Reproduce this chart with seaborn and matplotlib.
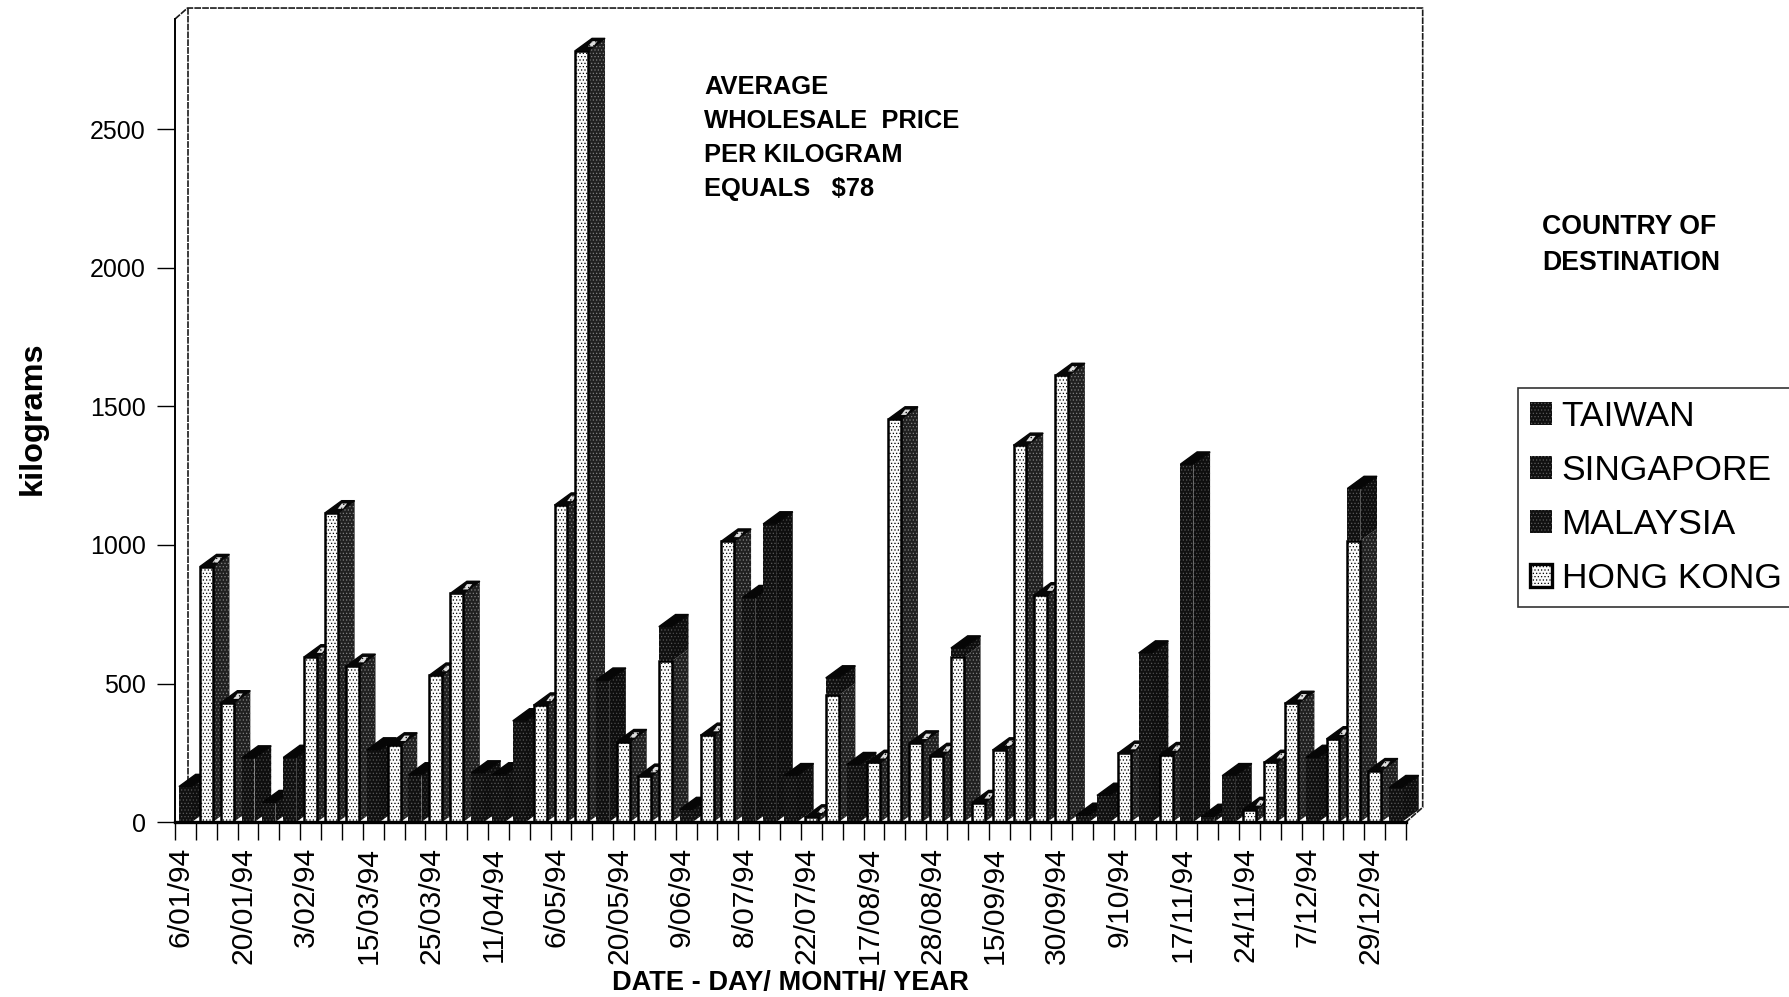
import numpy as np
import matplotlib
matplotlib.use("Agg")
import matplotlib.pyplot as plt
from matplotlib.patches import Patch
from matplotlib.transforms import ScaledTranslation
import seaborn as sns

date_labels = ["6/01/94","20/01/94","3/02/94","15/03/94","25/03/94","11/04/94","6/05/94",
               "20/05/94","9/06/94","8/07/94","22/07/94","17/08/94","28/08/94","15/09/94",
               "30/09/94","9/10/94","17/11/94","24/11/94","7/12/94","29/12/94"]
hong_kong = [0,922,430,0,0,0,596,1116,562,0,
             278,0,530,825,0,0,0,422,1144,2785,
             0,290,165,580,0,313,1014,0,0,0,
             18,457,0,215,1455,285,240,595,70,260,
             1360,820,1612,0,0,248,0,243,0,0,
             0,45,215,428,0,300,1015,185,0]
malaysia = [0,0,0,231,0,233,0,0,0,260,
            0,170,0,0,177,170,365,0,0,0,
            512,0,0,0,0,0,0,810,1076,0,
            0,0,0,0,0,0,0,0,0,0,
            0,0,0,0,0,0,0,0,0,0,
            0,0,0,0,0,0,0,0,0]
singapore = [0,0,0,0,0,0,0,0,0,0,
             0,0,0,0,0,0,0,0,0,0,
             0,0,0,125,0,0,0,0,0,167,
             0,63,207,0,0,0,0,33,0,0,
             0,0,0,0,0,0,610,0,0,0,
             167,0,0,0,233,0,189,0,0]
taiwan = [128,0,0,0,70,0,0,0,0,0,
          0,0,0,0,0,0,0,0,0,0,
          0,0,0,0,45,0,0,0,0,0,
          0,0,0,0,0,0,0,0,0,0,
          0,0,0,24,96,0,0,0,1292,20,
          0,0,0,0,0,0,0,0,124]
legend_names = ["TAIWAN", "SINGAPORE", "MALAYSIA", "HONG KONG"]
y_ticks = [0, 500, 1000, 1500, 2000, 2500]

sns.set_theme(style="white")
plt.rcParams["font.family"] = ["Liberation Sans", "DejaVu Sans"]
plt.rcParams["hatch.linewidth"] = 0.5

W, H = 1789, 997
fig = plt.figure(figsize=(W / 100, H / 100), dpi=100, facecolor="white")
L, R, B, T = 175, 1406, 822, 19
ax = fig.add_axes([L / W, 1 - B / H, (R - L) / W, (B - T) / H])

cells = np.arange(len(hong_kong))
BAR_W = 0.62
DX, DY = 0.8, 44.0
DARK_FACE, DARK_DOT = "#101010", "#5a5a5a"
LIGHT_FACE = "#fafafa"

bottom = np.zeros(len(cells))
layers = [("hk", hong_kong), ("my", malaysia), ("sg", singapore), ("tw", taiwan)]
for name, vals in layers:
    vals = np.array(vals, float)
    if name == "hk":
        sns.barplot(x=cells, y=vals, bottom=bottom, color=LIGHT_FACE, saturation=1, width=BAR_W,
                    edgecolor="black", linewidth=1.8, hatch=".....", ax=ax, legend=False)
    else:
        sns.barplot(x=cells, y=vals, bottom=bottom, color=DARK_FACE, saturation=1, width=BAR_W,
                    edgecolor=DARK_DOT, linewidth=0, hatch=".....", ax=ax, legend=False)
    bottom = bottom + vals

for k, cont in enumerate(ax.containers):
    for i, bar in enumerate(cont):
        bar.set_zorder(10 + i + 0.5)
        if bar.get_height() <= 0:
            bar.set_visible(False)

# 3-D depth: side and top faces derived from the bar values
for i in cells:
    right = i + BAR_W / 2
    left = i - BAR_W / 2
    hk = hong_kong[i]
    total = hk + malaysia[i] + singapore[i] + taiwan[i]
    if hk > 0:
        ax.fill([right, right + DX, right + DX, right],
                [0, DY, hk + DY, hk], facecolor="#202020", edgecolor="#808080",
                hatch=".....", lw=0, zorder=10 + i, clip_on=False)
    if total > hk:
        ax.fill([right, right + DX, right + DX, right],
                [hk, hk + DY, total + DY, total], facecolor="#0e0e0e", edgecolor="#4a4a4a",
                hatch=".....", lw=0, zorder=10 + i, clip_on=False)
    ax.fill([left, left + DX, right + DX, right], [total, total + DY, total + DY, total],
            facecolor="#060606", edgecolor="#060606", lw=1, zorder=10 + i + 0.6, clip_on=False)
    if total == hk:
        cx, cy = i + DX * 0.62, total + DY * 0.55
        ax.fill([cx - 0.2, cx, cx + 0.25, cx + 0.05],
                [cy - DY * .22, cy + DY * .22, cy + DY * .22, cy - DY * .22],
                facecolor="#dddddd", edgecolor="#111111", hatch="....", lw=0,
                zorder=10 + i + 0.7, clip_on=False)

ax.set_xlim(-0.5, len(cells) - 0.5)
ax.set_ylim(0, (B - T) / 0.277)

# frame
x0, x1 = -0.5, len(cells) - 0.5
ymax = ax.get_ylim()[1]
frame = dict(color="#1a1a1a", lw=1.2, ls=(0, (4, 0.7)), clip_on=False, zorder=2)
ax.plot([x0, x0 + DX * 0.75, x1 + DX, x1 + DX, x1], [ymax, ymax + DY * 0.9, ymax + DY * 0.9, DY * 1.2, 0], **frame)
ax.plot([x0 + DX * 0.75, x0 + DX * 0.75], [ymax + DY * 0.9, DY * 3], **frame)

sns.despine(ax=ax, top=True, right=True, bottom=False, left=False)
ax.spines["left"].set_color("black")
ax.spines["left"].set_linewidth(1.4)
ax.spines["bottom"].set_color("black")
ax.spines["bottom"].set_linewidth(2.4)
ax.spines["bottom"].set_zorder(100)

tick_pos = np.arange(len(cells) + 1) - 0.5
tick_txt = [date_labels[k // 3] if k % 3 == 0 else "" for k in range(len(tick_pos))]
ax.set_xticks(tick_pos, labels=tick_txt, rotation=90)
ax.set_yticks(y_ticks, labels=[str(v) for v in y_ticks])
ax.tick_params(axis="x", length=13, width=1, color="black", labelsize=21.7, pad=5, bottom=True, labelcolor="black")
ax.tick_params(axis="y", length=13, width=1, color="black", labelsize=18, pad=8, left=True, labelcolor="black")
shift = ScaledTranslation(6 / 100, 0, fig.dpi_scale_trans)
for lab in ax.get_xticklabels():
    lab.set_transform(lab.get_transform() + shift)
ax.set_xlabel(""); ax.set_ylabel("")

def px(x, y):
    return x / W, 1 - y / H

fig.text(*px(33, 418), "kilograms", rotation=90, ha="center", va="center", fontsize=23.4, fontweight="bold", color="black")
fig.text(*px(790, 983), "DATE - DAY/ MONTH/ YEAR", ha="center", va="center", fontsize=19.6, fontweight="bold", color="black")
fig.text(*px(704, 75), "AVERAGE\nWHOLESALE  PRICE\nPER KILOGRAM\nEQUALS   $78", ha="left", va="top",
         fontsize=18.4, fontweight="bold", color="black", linespacing=1.53)
fig.text(*px(1542, 214), "COUNTRY OF\nDESTINATION", ha="left", va="top",
         fontsize=19.2, fontweight="bold", color="black", linespacing=1.5)

handles = [Patch(facecolor=DARK_FACE, edgecolor=DARK_DOT, hatch=".....", lw=0) for _ in range(3)]
handles.append(Patch(facecolor=LIGHT_FACE, edgecolor="black", hatch=".....", lw=2.4))
leg = fig.legend(handles, legend_names, loc="upper left", bbox_to_anchor=px(1518, 388),
                 fontsize=25.5, frameon=True, fancybox=False, edgecolor="black", facecolor="white",
                 handlelength=0.62, handleheight=0.62, handletextpad=0.28, labelspacing=0.6,
                 borderpad=0.33, borderaxespad=0, labelcolor="black")
leg.get_frame().set_linewidth(1.2)

fig.savefig("out.png", dpi=100, facecolor="white")
